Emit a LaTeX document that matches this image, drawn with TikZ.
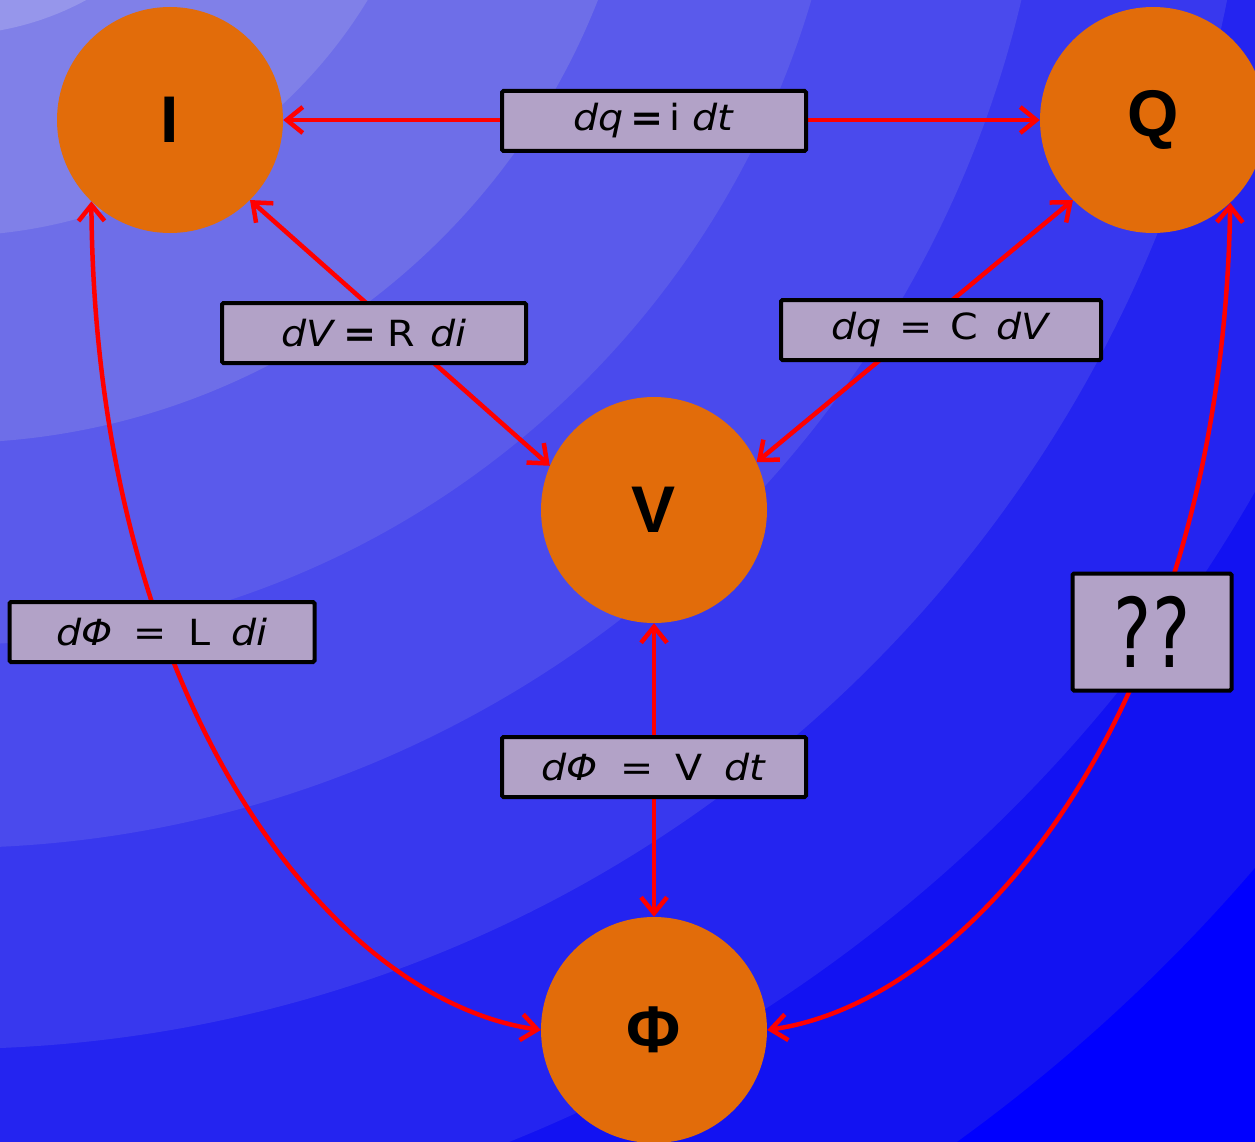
\documentclass[tikz,border=0pt]{standalone}
\usepackage{fontspec}
\setmainfont{DejaVu Sans}
\newfontfamily\lblfont[FakeStretch=1.1]{DejaVu Sans}
\newfontfamily\circfont{Liberation Sans}
\usetikzlibrary{arrows.meta}
\definecolor{nodeor}{RGB}{226,108,10}
\definecolor{boxfill}{RGB}{178,162,199}
\definecolor{bgA}{RGB}{150,150,235}
\definecolor{bgB}{RGB}{128,128,232}
\definecolor{bgC}{RGB}{110,110,232}
\definecolor{bgD}{RGB}{90,90,235}
\definecolor{bgE}{RGB}{74,74,237}
\definecolor{bgF}{RGB}{56,56,238}
\definecolor{bgG}{RGB}{36,36,240}
\definecolor{bgH}{RGB}{18,18,242}
\definecolor{bgI}{RGB}{0,0,255}
\begin{document}
\begin{tikzpicture}[x=1pt,y=-1pt,
  vnode/.style={circle,fill=nodeor,minimum size=226pt,inner sep=0pt,
    font=\circfont\fontsize{66}{72}\selectfont\bfseries},
  lbl/.style={draw=black,line width=4pt,fill=boxfill,minimum width=304pt,
    minimum height=60pt,inner sep=0pt,rounded corners=1.5pt,
    font=\lblfont\fontsize{36}{40}\selectfont},
  conn/.style={draw=red,line width=4.5pt,
    {Straight Barb[length=16pt,width=26pt]}-{Straight Barb[length=16pt,width=26pt]}}]
\useasboundingbox (0,0) rectangle (1255,1142);
% background bands
\begin{scope}
\clip (0,0) rectangle (1255,1142);
\fill[bgI] (0,0) rectangle (1255,1142);
\fill[bgH] (-52,-255) circle[radius=1723pt];
\fill[bgG] (-52,-255) circle[radius=1505pt];
\fill[bgF] (-52,-255) circle[radius=1304pt];
\fill[bgE] (-52,-255) circle[radius=1103pt];
\fill[bgD] (-52,-255) circle[radius=900pt];
\fill[bgC] (-52,-255) circle[radius=698pt];
\fill[bgB] (-52,-255) circle[radius=491pt];
\fill[bgA] (-52,-255) circle[radius=290pt];
\end{scope}
% nodes
\node[vnode] (I) at (170,120) {I};
\node[vnode] (Q) at (1153,120) {Q};
\node[vnode] (V) at (654,510) {V};
\node[vnode] (P) at (654,1030) {Φ};
% connectors
\draw[conn] (I) -- (Q);
\draw[conn] (I.-45) -- (V.157);
\draw[conn] (V.25) -- (Q.-135);
\draw[conn] (V) -- (P);
\draw[conn] (I.226) .. controls (95,700) and (330,1000) .. (P.180);
\draw[conn] (Q.-47) .. controls (1222,700) and (978,1000) .. (P.0);
% labels
\node[lbl] (b1) at (654,121) {\textit{dq}\hspace{6pt}\textbf{=}\hspace{6pt}i\hspace{12pt}\textit{dt}};
\node[lbl] (b2) at (374,333) {\textit{dV}\hspace{8pt}\textbf{=}\hspace{10pt}R\hspace{16pt}\textit{di}};
\node[lbl,minimum width=320pt] (b3) at (941,330) {\textit{dq}\hspace{18pt}=\hspace{18pt}C\hspace{18pt}\textit{dV}};
\node[lbl,minimum width=305pt] (b4) at (162,632) {\textit{dΦ}\hspace{21pt}=\hspace{21pt}L\hspace{21pt}\textit{di}};
\node[lbl] (b5) at (654,767) {\textit{dΦ}\hspace{22pt}=\hspace{22pt}V\hspace{22pt}\textit{dt}};
\node[lbl,minimum width=159pt,minimum height=117pt,font=\fontsize{96}{100}\selectfont] (b6) at (1152,632) {\scalebox{0.75}[1]{??}};
\end{tikzpicture}
\end{document}
